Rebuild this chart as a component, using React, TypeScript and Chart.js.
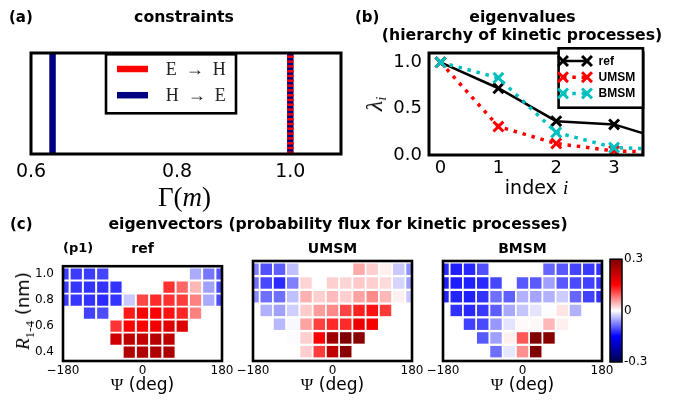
import React, { useEffect, useRef } from "react";
import { Chart, registerables } from "chart.js";
Chart.register(...registerables);

// ---------------- data ----------------
// (a) constraints
const gammaTicks = [0.6, 0.8, 1.0];
const gammaMin = 0.6;
const gammaMax = 1.105;
const eToH = [1.0];
const hToE = [0.626, 1.0];

// (b) eigenvalues
const eigIndex = [0, 1, 2, 3, 4];
const refEig = [1.0, 0.72, 0.365, 0.33, 0.14];
const umsmEig = [1.0, 0.307, 0.124, 0.044, 0.028];
const bmsmEig = [1.0, 0.832, 0.244, 0.08, 0.058];
const indexTicks = [0, 1, 2, 3];
const lambdaTicks = [0.0, 0.5, 1.0];

// (c) eigenvectors
const psiBins = [-180, -150, -120, -90, -60, -30, 0, 30, 60, 90, 120, 150, 180];
const rBins = [1.0, 0.9, 0.8, 0.7, 0.6, 0.5, 0.4];
const psiTicks = [-180, 0, 180];
const rTicks = [0.4, 0.6, 0.8, 1.0];
const fluxTicks = [-0.3, 0, 0.3];
const N = null;
const refFlux = [
  [-0.115, -0.115, -0.115, -0.11, N, N, N, N, N, N, -0.05, -0.08, -0.1],
  [-0.115, -0.118, -0.12, -0.12, -0.12, N, N, N, 0.122, 0.09, 0.042, -0.056, -0.105],
  [-0.115, -0.118, -0.12, -0.125, -0.12, -0.032, 0.108, 0.125, 0.122, 0.115, 0.075, -0.05, -0.105],
  [N, N, -0.112, -0.105, N, 0.135, 0.15, 0.15, 0.14, 0.128, 0.075, N, N],
  [N, N, N, N, 0.12, 0.15, 0.152, 0.165, 0.185, 0.19, N, N, N],
  [N, N, N, N, 0.205, 0.228, 0.22, 0.235, 0.225, N, N, N, N],
  [N, N, N, N, N, 0.243, 0.24, 0.243, 0.25, N, N, N, N],
];
const umsmFlux = [
  [-0.075, -0.103, -0.094, -0.037, N, N, N, N, 0.05, 0.028, 0.009, -0.032, -0.065],
  [-0.085, -0.108, -0.125, -0.075, 0.025, N, 0.028, 0.025, 0.032, 0.028, 0.022, -0.025, -0.056],
  [-0.07, -0.085, -0.085, -0.037, 0.046, 0.028, 0.04, 0.028, 0.055, 0.068, 0.042, 0.009, -0.032],
  [N, -0.046, -0.056, -0.028, 0.03, 0.058, 0.07, 0.11, 0.131, 0.14, 0.117, N, N],
  [N, N, -0.042, -0.004, 0.055, 0.112, 0.126, 0.125, 0.17, 0.16, N, N, N],
  [N, N, N, -0.002, 0.028, 0.15, 0.262, 0.3, 0.29, N, N, N, N],
  [N, N, N, N, 0.028, 0.115, 0.224, 0.29, N, N, N, N, N],
];
const bmsmFlux = [
  [-0.125, -0.131, -0.126, -0.103, N, N, N, N, -0.09, -0.098, -0.11, -0.116, -0.12],
  [-0.131, -0.133, -0.131, -0.126, -0.108, N, -0.098, -0.097, -0.056, -0.098, -0.107, -0.112, -0.117],
  [-0.129, -0.129, -0.131, -0.12, -0.085, -0.094, -0.046, -0.053, -0.046, -0.03, -0.09, -0.112, -0.122],
  [N, -0.122, -0.126, -0.117, -0.096, -0.051, -0.035, -0.016, -0.001, 0.016, -0.046, N, N],
  [N, N, -0.112, -0.107, -0.061, -0.016, 0.003, 0.004, 0.042, 0.009, N, N, N],
  [N, N, N, -0.098, -0.056, 0.009, 0.098, 0.3, 0.29, N, N, N, N],
  [N, N, N, N, -0.085, -0.014, 0.065, 0.3, N, N, N, N, N],
];

// ---------------- helpers ----------------
const SANS = '"DejaVu Sans"';
const SERIF = '"Liberation Serif"';

function seismic(v: number): string {
  const lo = fluxTicks[0], hi = fluxTicks[fluxTicks.length - 1];
  const t = Math.max(0, Math.min(1, (v - lo) / (hi - lo)));
  const stops = [[0, 0, 76.5], [0, 0, 255], [255, 255, 255], [255, 0, 0], [127.5, 0, 0]];
  const p = t * 4;
  const i = Math.min(3, Math.floor(p));
  const f = p - i;
  const a = stops[i], b = stops[i + 1];
  const c = a.map((av, k) => Math.round(av + (b[k] - av) * f));
  return `rgb(${c[0]},${c[1]},${c[2]})`;
}

const fixTicks = (vals: number[]) => (s: any) => {
  s.ticks = vals.map((v) => ({ value: v }));
};

const framePlugin = (lw: number) => ({
  id: "frame",
  afterDatasetsDraw(chart: any) {
    const { ctx, chartArea: a } = chart;
    ctx.save();
    ctx.strokeStyle = "#000";
    ctx.lineWidth = lw;
    ctx.strokeRect(a.left, a.top, a.right - a.left, a.bottom - a.top);
    ctx.restore();
  },
});

const noPlugins = { legend: { display: false }, tooltip: { enabled: false }, title: { display: false } };

function ChartCanvas({ left, top, width, height, make }: any) {
  const ref = useRef<HTMLCanvasElement>(null);
  useEffect(() => {
    const chart = new Chart(ref.current as HTMLCanvasElement, make());
    return () => chart.destroy();
  }, []);
  return (
    <canvas
      ref={ref}
      width={width}
      height={height}
      style={{ position: "absolute", left, top, width, height }}
    />
  );
}

function Txt({ x, y, size, anchor = "middle", bold, family = SANS, rotate, children }: any) {
  const style: React.CSSProperties = {
    position: "absolute",
    whiteSpace: "nowrap",
    fontFamily: family,
    fontSize: size,
    fontWeight: bold ? "bold" : "normal",
    lineHeight: `${size}px`,
    color: "#000",
    left: x,
  };
  if (rotate) {
    style.top = y;
    style.transform = "translate(-50%,-50%) rotate(-90deg)";
  } else {
    style.top = y - 0.846 * size;
    if (anchor === "middle") style.transform = "translateX(-50%)";
  }
  return <div style={style}>{children}</div>;
}

// ---------------- (a) constraints ----------------
const legendA = {
  id: "legendA",
  afterDraw(chart: any) {
    const { ctx, chartArea: a } = chart;
    const bx = a.left + 75, by = a.top + 1.3, bw = 130, bh = 59;
    ctx.save();
    ctx.fillStyle = "#fff";
    ctx.fillRect(bx, by, bw, bh);
    ctx.strokeStyle = "#000";
    ctx.lineWidth = 2.6;
    ctx.strokeRect(bx, by, bw, bh);
    const seen: string[] = [];
    const entries: any[] = [];
    chart.data.datasets.forEach((d: any) => {
      if (!seen.includes(d.label)) {
        seen.push(d.label);
        entries.push(d);
      }
    });
    entries.forEach((d, i) => {
      const y = by + 14.7 + i * 26.2;
      ctx.strokeStyle = d.borderColor;
      ctx.lineWidth = 6.5;
      ctx.setLineDash([]);
      ctx.beginPath();
      ctx.moveTo(bx + 11, y);
      ctx.lineTo(bx + 42, y);
      ctx.stroke();
      ctx.fillStyle = "#222";
      ctx.font = `18px ${SERIF}`;
      ctx.textBaseline = "middle";
      ctx.textAlign = "left";
      ctx.fillText(d.label.replace(" → ", "  →  "), bx + 59.7, y + 1);
    });
    ctx.restore();
  },
};

const makeA = () => ({
  type: "scatter",
  data: {
    datasets: [
      ...eToH.map((g) => ({
        label: "E → H",
        data: [{ x: g, y: 0 }, { x: g, y: 1 }],
        showLine: true,
        borderColor: "#ff0000",
        borderWidth: 6.5,
        borderDash: [2.4, 2.4],
        pointRadius: 0,
        order: 0,
      })),
      ...hToE.map((g) => ({
        label: "H → E",
        data: [{ x: g, y: 0 }, { x: g, y: 1 }],
        showLine: true,
        borderColor: "#000080",
        borderWidth: 6.5,
        pointRadius: 0,
        order: 1,
      })),
    ],
  },
  options: {
    animation: false,
    responsive: false,
    devicePixelRatio: 1,
    events: [],
    layout: { padding: { left: 31, right: 25, top: 53, bottom: 0 } },
    plugins: noPlugins,
    scales: {
      x: {
        type: "logarithmic",
        min: gammaMin,
        max: gammaMax,
        afterBuildTicks: fixTicks(gammaTicks),
        afterFit: (s: any) => { s.height = 46; },
        grid: { display: false, drawTicks: false },
        border: { display: false },
        ticks: {
          padding: 7,
          color: "#000",
          autoSkip: false,
          maxRotation: 0,
          font: { family: "DejaVu Sans", size: 19 },
          callback: (v: any) => Number(v).toFixed(1),
        },
      },
      y: { type: "linear", min: 0, max: 1, display: false },
    },
  },
  plugins: [framePlugin(3), legendA],
});

// ---------------- (b) eigenvalues ----------------
function drawX(ctx: any, x: number, y: number, r: number) {
  const o = r * Math.SQRT1_2;
  ctx.beginPath();
  ctx.moveTo(x - o, y - o);
  ctx.lineTo(x + o, y + o);
  ctx.moveTo(x - o, y + o);
  ctx.lineTo(x + o, y - o);
  ctx.stroke();
}

const legendB = {
  id: "legendB",
  afterDraw(chart: any) {
    const { ctx, chartArea: a } = chart;
    const bw = 84.4, bh = 59.4;
    const bx = a.right - bw, by = a.top - 4.7;
    ctx.save();
    ctx.fillStyle = "#fff";
    ctx.fillRect(bx, by, bw, bh);
    ctx.strokeStyle = "#000";
    ctx.lineWidth = 2.6;
    ctx.strokeRect(bx, by, bw, bh);
    chart.data.datasets.forEach((d: any, i: number) => {
      const y = by + 12.7 + i * 16.2;
      ctx.strokeStyle = d.borderColor;
      ctx.lineWidth = d.borderWidth;
      ctx.setLineDash(d.borderDash || []);
      ctx.beginPath();
      ctx.moveTo(bx + 4.4, y);
      ctx.lineTo(bx + 28.4, y);
      ctx.stroke();
      ctx.setLineDash([]);
      ctx.lineWidth = d.pointBorderWidth;
      drawX(ctx, bx + 4.4, y, d.pointRadius);
      drawX(ctx, bx + 28.4, y, d.pointRadius);
      ctx.fillStyle = "#000";
      ctx.font = `bold 12px "Liberation Sans"`;
      ctx.textBaseline = "middle";
      ctx.textAlign = "left";
      ctx.fillText(d.label, bx + 40, y + 0.5);
    });
    ctx.restore();
  },
};

const eigSeries = (label: string, vals: number[], color: string, width: number, dash: number[] | undefined, order: number) => ({
  label,
  data: eigIndex.map((x, i) => ({ x, y: vals[i] })),
  showLine: true,
  borderColor: color,
  borderWidth: width,
  borderDash: dash,
  pointStyle: "crossRot",
  pointRadius: 7,
  pointBorderWidth: 3,
  pointBorderColor: color,
  pointBackgroundColor: color,
  clip: 0,
  order,
});

const makeB = () => ({
  type: "scatter",
  data: {
    datasets: [
      eigSeries("ref", refEig, "#000000", 2.5, undefined, 3),
      eigSeries("UMSM", umsmEig, "#ff0000", 3.5, [3.5, 5.8], 2),
      eigSeries("BMSM", bmsmEig, "#00bfbf", 3.5, [3.5, 5.8], 1),
    ],
  },
  options: {
    animation: false,
    responsive: false,
    devicePixelRatio: 1,
    events: [],
    layout: { padding: { left: 24, right: 33, top: 53, bottom: 0 } },
    plugins: noPlugins,
    scales: {
      x: {
        type: "linear",
        min: -0.2,
        max: 3.5,
        afterBuildTicks: fixTicks(indexTicks),
        afterFit: (s: any) => { s.height = 45; },
        grid: { display: false, drawTicks: false },
        border: { display: false },
        ticks: {
          padding: 3,
          color: "#000",
          autoSkip: false,
          maxRotation: 0,
          font: { family: "DejaVu Sans", size: 18 },
          callback: (v: any) => String(v),
        },
      },
      y: {
        type: "linear",
        min: 0,
        max: 1.1,
        afterBuildTicks: fixTicks(lambdaTicks),
        afterFit: (s: any) => { s.width = 60; },
        grid: { display: false, drawTicks: false },
        border: { display: false },
        ticks: {
          padding: 7,
          color: "#000",
          autoSkip: false,
          font: { family: "DejaVu Sans", size: 18 },
          callback: (v: any) => Number(v).toFixed(1),
        },
      },
    },
  },
  plugins: [framePlugin(3), legendB],
});

// ---------------- (c) heatmaps ----------------
function cellsOf(grid: (number | null)[][]) {
  const out: any[] = [];
  grid.forEach((row, i) =>
    row.forEach((v, j) => {
      if (v !== null) out.push({ x: psiBins[j], y: rBins[i], v });
    })
  );
  return out;
}

function cellRadius(chart: any) {
  const xs = chart.scales.x, ys = chart.scales.y;
  const w = Math.abs(xs.getPixelForValue(psiBins[1]) - xs.getPixelForValue(psiBins[0]));
  const h = Math.abs(ys.getPixelForValue(rBins[0]) - ys.getPixelForValue(rBins[1]));
  return (Math.min(w, h) - 1.8) / Math.SQRT2;
}

const makeHeat = (grid: (number | null)[][], showY: boolean) => () => ({
  type: "scatter",
  data: {
    datasets: [
      {
        data: cellsOf(grid),
        pointStyle: "rect",
        pointRadius: (c: any) => cellRadius(c.chart),
        pointBackgroundColor: (c: any) => seismic(c.raw ? c.raw.v : 0),
        pointBorderWidth: 0,
        clip: 0,
      },
    ],
  },
  options: {
    animation: false,
    responsive: false,
    devicePixelRatio: 1,
    events: [],
    layout: { padding: { left: showY ? 0 : 40, right: 16, top: 11, bottom: 0 } },
    plugins: noPlugins,
    scales: {
      x: {
        type: "linear",
        min: psiBins[0],
        max: psiBins[psiBins.length - 1],
        afterBuildTicks: fixTicks(psiTicks),
        afterFit: (s: any) => { s.height = 19; },
        grid: { display: false, drawTicks: false },
        border: { display: false },
        ticks: {
          padding: 3,
          color: "#000",
          autoSkip: false,
          maxRotation: 0,
          font: { family: "DejaVu Sans", size: 12 },
          callback: (v: any) => String(v).replace("-", "\u2212"),
        },
      },
      y: {
        type: "linear",
        min: 0.332,
        max: 1.06,
        display: showY,
        afterBuildTicks: fixTicks(rTicks),
        afterFit: (s: any) => { s.width = showY ? 40 : 0; },
        grid: { display: false, drawTicks: false },
        border: { display: false },
        ticks: {
          padding: 9,
          color: "#000",
          autoSkip: false,
          font: { family: "DejaVu Sans", size: 12 },
          callback: (v: any) => Number(v).toFixed(1),
        },
      },
    },
  },
  plugins: [framePlugin(2.6)],
});

const makeBar = () => ({
  type: "bar",
  data: {
    labels: [""],
    datasets: [
      {
        data: [[fluxTicks[0], fluxTicks[fluxTicks.length - 1]]],
        backgroundColor: (c: any) => {
          const chart = c.chart;
          if (!chart.chartArea) return "rgba(0,0,0,0)";
          const ys = chart.scales.y;
          const lo = fluxTicks[0], hi = fluxTicks[fluxTicks.length - 1];
          const g = chart.ctx.createLinearGradient(0, ys.getPixelForValue(lo), 0, ys.getPixelForValue(hi));
          for (let k = 0; k <= 40; k++) {
            const t = k / 40;
            g.addColorStop(t, seismic(lo + t * (hi - lo)));
          }
          return g;
        },
        borderWidth: 0,
        categoryPercentage: 1,
        barPercentage: 1,
      },
    ],
  },
  options: {
    animation: false,
    responsive: false,
    devicePixelRatio: 1,
    events: [],
    layout: { padding: { left: 10, right: 4, top: 9, bottom: 18 } },
    plugins: noPlugins,
    scales: {
      x: { display: false },
      y: {
        position: "right",
        min: fluxTicks[0],
        max: fluxTicks[fluxTicks.length - 1],
        afterBuildTicks: fixTicks(fluxTicks),
        afterFit: (s: any) => { s.width = 50; },
        grid: { display: false, drawTicks: false },
        border: { display: false },
        ticks: {
          padding: 2,
          color: "#000",
          autoSkip: false,
          font: { family: "DejaVu Sans", size: 12 },
          callback: (v: any) => (Number(v) === 0 ? "0" : Number(v).toFixed(1)),
        },
      },
    },
  },
  plugins: [framePlugin(1.5)],
});

// ---------------- App ----------------
const heatPanels = [
  { name: "ref", grid: refFlux, left: 23 },
  { name: "UMSM", grid: umsmFlux, left: 213 },
  { name: "BMSM", grid: bmsmFlux, left: 403 },
];

export default function App() {
  const mi = { fontFamily: SERIF, fontStyle: "italic" } as React.CSSProperties;
  const mr = { fontFamily: SERIF } as React.CSSProperties;
  return (
    <div style={{ position: "absolute", left: 0, top: 0, width: 676, height: 400, background: "#fff", overflow: "hidden" }}>
      <ChartCanvas left={0} top={0} width={366} height={200} make={makeA} />
      <ChartCanvas left={345} top={0} width={331} height={200} make={makeB} />
      {heatPanels.map((p, i) => (
        <ChartCanvas key={p.name} left={p.left} top={250} width={215} height={130} make={makeHeat(p.grid, i === 0)} />
      ))}
      <ChartCanvas left={600} top={250} width={76} height={130} make={makeBar} />

      <Txt x={9} y={22.3} size={15} bold anchor="start">(a)</Txt>
      <Txt x={184} y={22.3} size={15.7} bold>constraints</Txt>
      <Txt x={184.5} y={207} size={27} family={SERIF}>
        <span style={mr}>Γ(</span><span style={mi}>m</span><span style={mr}>)</span>
      </Txt>

      <Txt x={355} y={22.5} size={15} bold anchor="start">(b)</Txt>
      <Txt x={522.5} y={22.7} size={15.7} bold>eigenvalues</Txt>
      <Txt x={522} y={40.7} size={15.7} bold>(hierarchy of kinetic processes)</Txt>
      <Txt x={536.5} y={194} size={19}>
        index <span style={mi}>i</span>
      </Txt>
      <Txt x={374} y={104} size={24} rotate family={SERIF}>
        <span style={mi}>λ</span>
        <span style={{ ...mi, fontSize: 14, verticalAlign: "-0.3em", lineHeight: 0 }}>i</span>
      </Txt>

      <Txt x={10} y={229.5} size={15} bold anchor="start">(c)</Txt>
      <Txt x={338} y={229.5} size={15.7} bold>eigenvectors (probability flux for kinetic processes)</Txt>
      <Txt x={63} y={252} size={13} bold anchor="start">(p1)</Txt>
      {heatPanels.map((p) => (
        <Txt key={"t" + p.name} x={p.left + 40 + 79.5} y={252.5} size={14} bold>{p.name}</Txt>
      ))}
      {heatPanels.map((p) => (
        <Txt key={"x" + p.name} x={p.left + 40 + 79.5} y={390} size={17}>
          <span style={mr}>Ψ</span> (deg)
        </Txt>
      ))}
      <Txt x={23} y={311} size={18} rotate>
        <span style={{ ...mi, fontSize: 19 }}>R</span>
        <span style={{ ...mr, fontSize: 13, verticalAlign: "-0.35em", lineHeight: 0 }}>1-4</span> (nm)
      </Txt>
    </div>
  );
}
